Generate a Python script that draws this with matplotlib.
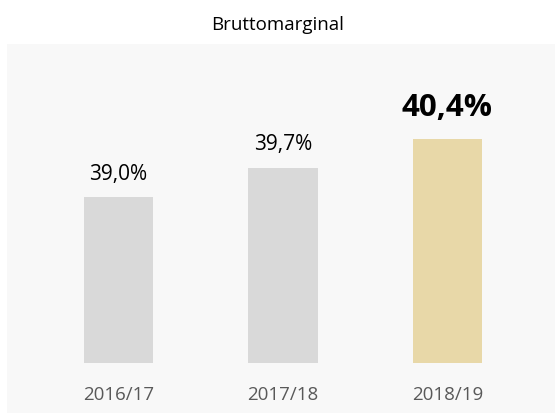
import matplotlib
matplotlib.use("Agg")
from matplotlib import pyplot as plt
from matplotlib.patches import Rectangle

# data
years = ["2016/17", "2017/18", "2018/19"]
margin = [39.0, 39.7, 40.4]
labels = ["39,0%", "39,7%", "40,4%"]
bar_colors = ["#d9d9d9", "#d9d9d9", "#e8d8a8"]

plt.rcParams['font.family'] = ['Open Sans', 'DejaVu Sans']

W, H = 555, 414
fig = plt.figure(figsize=(W / 100, H / 100), dpi=100)
fig.patch.set_facecolor("white")

# light panel behind the chart
fig.patches.append(Rectangle((7 / W, 0), 1 - 7 / W, (H - 45) / H,
                             transform=fig.transFigure, facecolor="#f8f8f8",
                             edgecolor="none", zorder=-5))

fig.text(0.5, 1 - 25 / H, "Bruttomarginal", ha="center", va="center",
         fontsize=13.5, color="#000000")

# axes placed over the bar area (pixel coords)
left, right = 36.25, 529.75
bottom, top = 363.7, 72.8
ax = fig.add_axes([left / W, (H - bottom) / H, (right - left) / W, (bottom - top) / H])
ax.set_facecolor("none")
ax.set_zorder(2)

x = range(len(years))
ax.bar(x, margin, width=0.42, color=bar_colors, bottom=0)
ax.set_xlim(-0.5, 2.5)
ax.set_ylim(35.05, 42)

for i, (v, lab) in enumerate(zip(margin, labels)):
    if i == 2:
        ax.annotate(lab, (i, v), xytext=(0, 17), textcoords="offset points",
                    ha="center", va="baseline", fontsize=22.5, fontweight="bold",
                    color="#000000")
    else:
        ax.annotate(lab, (i, v), xytext=(0, 13.5), textcoords="offset points",
                    ha="center", va="baseline", fontsize=15, color="#000000")

ax.set_xticks(list(x))
ax.set_xticklabels(years, fontsize=13.5, color="#595959")
ax.tick_params(axis="x", length=0, pad=16)
ax.set_yticks([])
for s in ax.spines.values():
    s.set_visible(False)

fig.savefig("out.png", dpi=100, facecolor=fig.get_facecolor())
